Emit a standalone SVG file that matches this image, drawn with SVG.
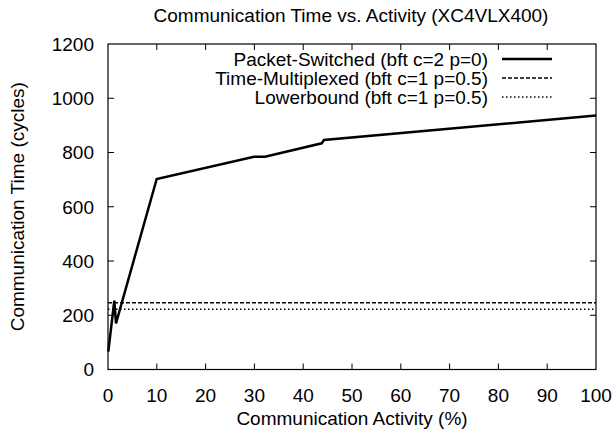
<svg xmlns="http://www.w3.org/2000/svg" width="615" height="431" viewBox="0 0 615 431">
<style>
text{font-family:"Liberation Sans",Arial,sans-serif;font-size:19px;fill:#000}
.yt{text-anchor:end}
.xt{text-anchor:middle}
.tick{stroke:#000;stroke-width:1}
.border{fill:none;stroke:#000;stroke-width:1.2}
.ps{fill:none;stroke:#000;stroke-width:2.5;stroke-linejoin:miter}
.tm{fill:none;stroke:#000;stroke-width:1.6;stroke-dasharray:4,2}
.lb{fill:none;stroke:#000;stroke-width:1.6;stroke-dasharray:1.5,2.5}
</style>
<rect width="615" height="431" fill="#fff"/>
<g id="title"><text x="351" y="22" class="xt">Communication Time vs. Activity (XC4VLX400)</text></g>
<g id="ticks">
<path class="tick" d="M108 315.25h6M108 261h6M108 206.75h6M108 152.5h6M108 98.25h6
M596 315.25h-6M596 261h-6M596 206.75h-6M596 152.5h-6M596 98.25h-6
M156.8 369.5v-6M205.6 369.5v-6M254.4 369.5v-6M303.2 369.5v-6M352 369.5v-6M400.8 369.5v-6M449.6 369.5v-6M498.4 369.5v-6M547.2 369.5v-6
M156.8 44v6M205.6 44v6M254.4 44v6M303.2 44v6M352 44v6M400.8 44v6M449.6 44v6M498.4 44v6M547.2 44v6"/>
</g>
<g id="y-labels">
<text class="yt" x="94" y="376.3">0</text>
<text class="yt" x="94" y="322">200</text>
<text class="yt" x="94" y="267.8">400</text>
<text class="yt" x="94" y="213.5">600</text>
<text class="yt" x="94" y="159.3">800</text>
<text class="yt" x="94" y="105">1000</text>
<text class="yt" x="94" y="50.8">1200</text>
</g>
<g id="x-labels">
<text class="xt" x="108" y="401.5">0</text>
<text class="xt" x="156.8" y="401.5">10</text>
<text class="xt" x="205.6" y="401.5">20</text>
<text class="xt" x="254.4" y="401.5">30</text>
<text class="xt" x="303.2" y="401.5">40</text>
<text class="xt" x="352" y="401.5">50</text>
<text class="xt" x="400.8" y="401.5">60</text>
<text class="xt" x="449.6" y="401.5">70</text>
<text class="xt" x="498.4" y="401.5">80</text>
<text class="xt" x="547.2" y="401.5">90</text>
<text class="xt" x="596" y="401.5">100</text>
</g>
<g id="axis-titles">
<text class="xt" x="352" y="425">Communication Activity (%)</text>
<text class="xt" transform="translate(24,206.75) rotate(-90)">Communication Time (cycles)</text>
</g>
<g id="series">
<path id="lowerbound" class="lb" d="M108 309.3H596"/>
<path id="time-multiplexed" class="tm" d="M108 302.7H596"/>
<path id="packet-switched" class="ps" d="M108.3 351.7L114.3 300.7L116 323.3L156.7 179L254 156.7L265 156.7L321.7 143.3L324 140L596 115.6"/>
</g>
<g id="legend">
<g id="legend-ps"><text class="yt" x="488" y="65.8">Packet-Switched (bft c=2 p=0)</text><path class="ps" d="M502 59H552"/></g>
<g id="legend-tm"><text class="yt" x="488" y="84.8">Time-Multiplexed (bft c=1 p=0.5)</text><path class="tm" d="M502 78H552"/></g>
<g id="legend-lb"><text class="yt" x="488" y="103.8">Lowerbound (bft c=1 p=0.5)</text><path class="lb" d="M502 97H552"/></g>
</g>
<rect id="frame" class="border" x="108" y="44" width="488" height="325.5"/>
</svg>
